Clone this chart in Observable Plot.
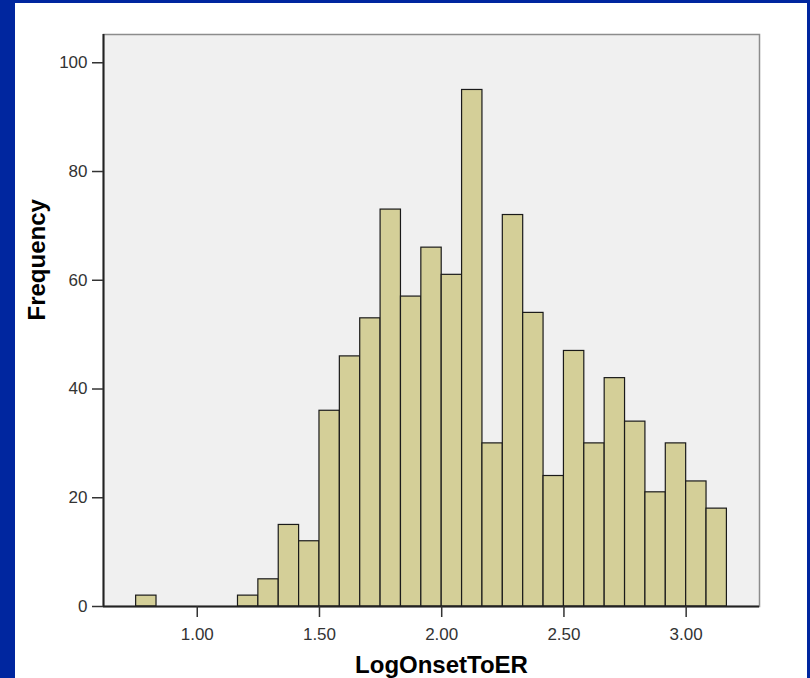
<!DOCTYPE html>
<html>
<head>
<meta charset="utf-8">
<script src="https://cdn.jsdelivr.net/npm/d3@7"></script>
<script src="https://cdn.jsdelivr.net/npm/@observablehq/plot@0.6"></script>
<style>
  html, body { margin: 0; padding: 0; }
  body { width: 810px; height: 678px; background: #00269f; position: relative; overflow: hidden; }
  #panel { position: absolute; left: 15px; top: 3px; width: 792px; height: 675px; background: #ffffff; }
  #chart { position: absolute; left: 0; top: 0; }
</style>
</head>
<body>
<div id="panel"></div>
<div id="chart"></div>
<script>
// Histogram of LogOnsetToER: bins of width 1/12 starting at 0.75
const firstEdge = 0.75;
const binWidth = 1 / 12;
const counts = [2, 0, 0, 0, 0, 2, 5, 15, 12, 36, 46, 53, 73, 57, 66, 61, 95, 30, 72, 54, 24, 47, 30, 42, 34, 21, 30, 23, 18];
const xTicks = [1.0, 1.5, 2.0, 2.5, 3.0];
const yTicks = [0, 20, 40, 60, 80, 100];
const xDomain = [0.6165, 3.300];
const yDomain = [0, 105.2];
const xTitle = "LogOnsetToER";
const yTitle = "Frequency";

const bins = counts.map((c, i) => ({
  x1: firstEdge + i * binWidth,
  x2: firstEdge + (i + 1) * binWidth,
  count: c
})).filter(d => d.count > 0);

const font = "Arial, 'Liberation Sans', sans-serif";

const chart = Plot.plot({
  width: 810,
  height: 678,
  marginLeft: 103,
  marginRight: 51,
  marginTop: 34,
  marginBottom: 72,
  x: { domain: xDomain },
  y: { domain: yDomain },
  style: { background: "transparent", fontFamily: font, color: "#222", overflow: "visible" },
  marks: [
    Plot.frame({ fill: "#f0f0f0", stroke: "#8c8c8c", strokeWidth: 1.5 }),
    Plot.rectY(bins, { x1: "x1", x2: "x2", y: "count", fill: "#d4cf98", stroke: "#1a1a1a", strokeWidth: 1.2 }),
    Plot.ruleY([yDomain[0]], { stroke: "#222", strokeWidth: 2 }),
    Plot.ruleX([xDomain[0]], { stroke: "#222", strokeWidth: 2 }),
    Plot.axisY({ ticks: yTicks, tickSize: 11, tickPadding: 5, fontSize: 17, label: null, strokeWidth: 1.5, color: "#333" }),
    Plot.axisX({ ticks: xTicks, tickFormat: d3.format(".2f"), tickSize: 11, tickPadding: 10, fontSize: 17, label: null, strokeWidth: 1.5, color: "#333" }),
    Plot.text([xTitle], { text: d => d, frameAnchor: "bottom", lineAnchor: "middle", dy: 59, dx: 10, fontSize: 24, fontWeight: "bold", fill: "#000" }),
    Plot.text([yTitle], { text: d => d, frameAnchor: "left", lineAnchor: "middle", rotate: -90, dx: -66, fontSize: 24, fontWeight: "bold", fill: "#000" })
  ]
});
document.getElementById("chart").appendChild(chart);
</script>
</body>
</html>
